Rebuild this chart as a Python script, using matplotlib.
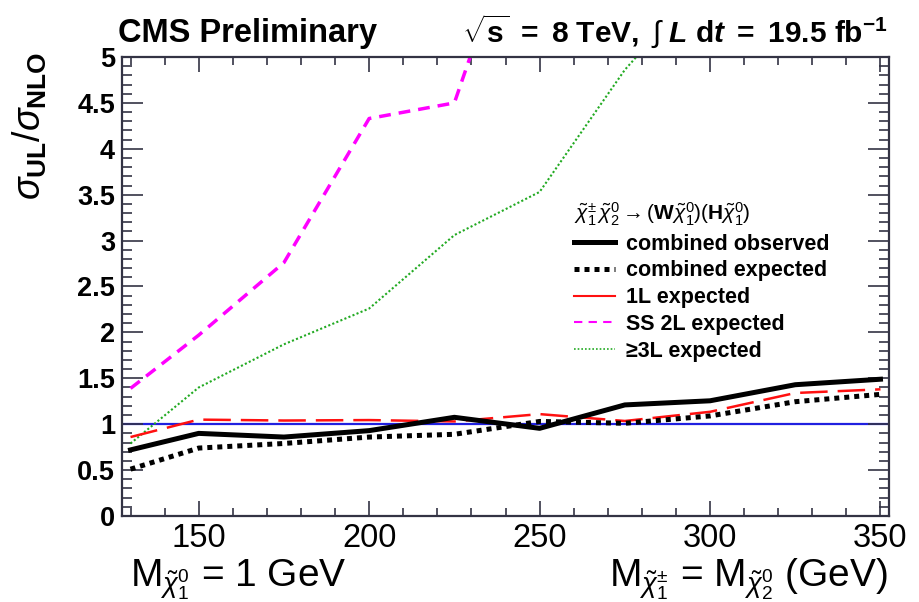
import matplotlib
matplotlib.use("Agg")
import matplotlib.pyplot as plt
from matplotlib.lines import Line2D
from matplotlib.ticker import MultipleLocator

plt.rcParams["font.family"] = ["Liberation Sans", "DejaVu Sans"]
plt.rcParams["mathtext.fontset"] = "custom"
plt.rcParams["mathtext.rm"] = "Liberation Sans"
plt.rcParams["mathtext.it"] = "Liberation Sans:italic"
plt.rcParams["mathtext.bf"] = "Liberation Sans:bold"
plt.rcParams["mathtext.bfit"] = "Liberation Sans:italic:bold"

# chargino / neutralino2 mass points (GeV)
mass = [130, 150, 175, 200, 225, 250, 275, 300, 325, 350]

# upper limit on cross section relative to NLO prediction
comb_obs = [0.72, 0.90, 0.86, 0.93, 1.075, 0.955, 1.21, 1.255, 1.43, 1.49]
comb_exp = [0.51, 0.74, 0.79, 0.86, 0.89, 1.03, 1.01, 1.09, 1.245, 1.325]
exp_1l = [0.86, 1.05, 1.04, 1.045, 1.03, 1.11, 1.035, 1.135, 1.34, 1.38]
exp_ss2l = [1.39, 1.97, 2.76, 4.33, 4.50, 7.2]
exp_3l = [0.79, 1.40, 1.87, 2.26, 3.06, 3.53, 4.86, 5.9]

labels = ["combined observed", "combined expected", "1L expected",
          "SS 2L expected", "\u22653L expected"]

fig = plt.figure(figsize=(9.19, 6.02), dpi=100)
ax = fig.add_axes([122 / 919, 1 - 516 / 602, (889 - 122) / 919, (516 - 57) / 602])

ax.axhline(1.0, color="#2020e0", lw=1.6, zorder=1)
ax.plot(mass[:len(exp_3l)], exp_3l, color="#22aa22", lw=1.5,
        ls=(0, (1, 1.1)), zorder=2)
ax.plot(mass[:len(exp_ss2l)], exp_ss2l, color="#ff00ff", lw=2.5,
        ls=(0, (3.4, 2.3)), zorder=2)
ax.plot(mass, exp_1l, color="#ff1010", lw=1.8, ls=(0, (11, 4)), zorder=3)
ax.plot(mass, comb_exp, color="black", lw=3.6, ls=(0, (1, 1)),
        dash_capstyle="butt", zorder=4)
ax.plot(mass, comb_obs, color="black", lw=3.6, solid_joinstyle="round", zorder=5)

ax.set_xlim(127.5, 352.5)
ax.set_ylim(0, 5)

ax.xaxis.set_major_locator(MultipleLocator(50))
ax.xaxis.set_minor_locator(MultipleLocator(10))
ax.yaxis.set_major_locator(MultipleLocator(0.5))
ax.yaxis.set_minor_locator(MultipleLocator(0.1))
ax.tick_params(which="both", direction="in", top=True, right=True,
               color="#333344", width=1.2)
ax.tick_params(axis="x", which="major", length=11, labelsize=23.5, pad=5)
ax.tick_params(axis="x", which="minor", length=5.5)
ax.tick_params(axis="y", which="major", length=15, labelsize=19.5, pad=5)
ax.tick_params(axis="y", which="minor", length=7.5)
for lab in ax.get_yticklabels():
    lab.set_fontweight("bold")
ax.yaxis.set_major_formatter(plt.FuncFormatter(lambda v, p: f"{v:g}"))
for sp in ax.spines.values():
    sp.set_color("#333344")
    sp.set_linewidth(1.6)

ax.set_ylabel(r"$\sigma_{\mathbf{UL}}/\sigma_{\mathbf{NLO}}$", fontsize=27,
              labelpad=4)
ax.yaxis.set_label_coords(-0.095, 0.85)

fig.text(118 / 919, 1 - 42 / 602, "CMS Preliminary", fontsize=23.5,
         fontweight="bold", ha="left", va="baseline")
fig.text(888 / 919, 1 - 42 / 602,
         r"$\sqrt{\mathbf{s}}\ \mathbf{=\ 8\ TeV,}\ \int\ \mathbfit{L}\ \mathbf{d}\mathbfit{t}\ \mathbf{=\ 19.5\ fb^{-1}}$",
         fontsize=21.5, ha="right", va="baseline")

fig.text(130 / 919, 1 - 586 / 602, r"M$_{\tilde{\chi}^{0}_{1}}$ = 1 GeV",
         fontsize=28, ha="left", va="baseline")
fig.text(888 / 919, 1 - 586 / 602,
         r"M$_{\tilde{\chi}^{\pm}_{1}}$ = M$_{\tilde{\chi}^{0}_{2}}$ (GeV)",
         fontsize=28, ha="right", va="baseline")

handles = [
    Line2D([], [], color="black", lw=3.6),
    Line2D([], [], color="black", lw=3.6, ls=(0, (1, 1)), dash_capstyle="butt"),
    Line2D([], [], color="#ff1010", lw=1.5),
    Line2D([], [], color="#ff00ff", lw=1.5, ls=(0, (4, 3))),
    Line2D([], [], color="#22aa22", lw=1.2, ls=(0, (1, 1.2))),
]
leg = ax.legend(handles, labels, loc="upper left",
                bbox_to_anchor=((570 - 122) / 767, (516 - 196) / 459),
                frameon=False, prop={"weight": "bold", "size": 15.5},
                handlelength=1.9, handletextpad=0.5, labelspacing=0.27,
                borderaxespad=0, borderpad=0.2,
                title=r"$\tilde{\chi}^{\pm}_{1}\,\tilde{\chi}^{0}_{2} \rightarrow (\mathbf{W}\tilde{\chi}^{0}_{1})(\mathbf{H}\tilde{\chi}^{0}_{1})$",
                title_fontproperties={"size": 15, "weight": "bold"})
leg._legend_box.align = "left"

fig.savefig("out.png", dpi=100)
